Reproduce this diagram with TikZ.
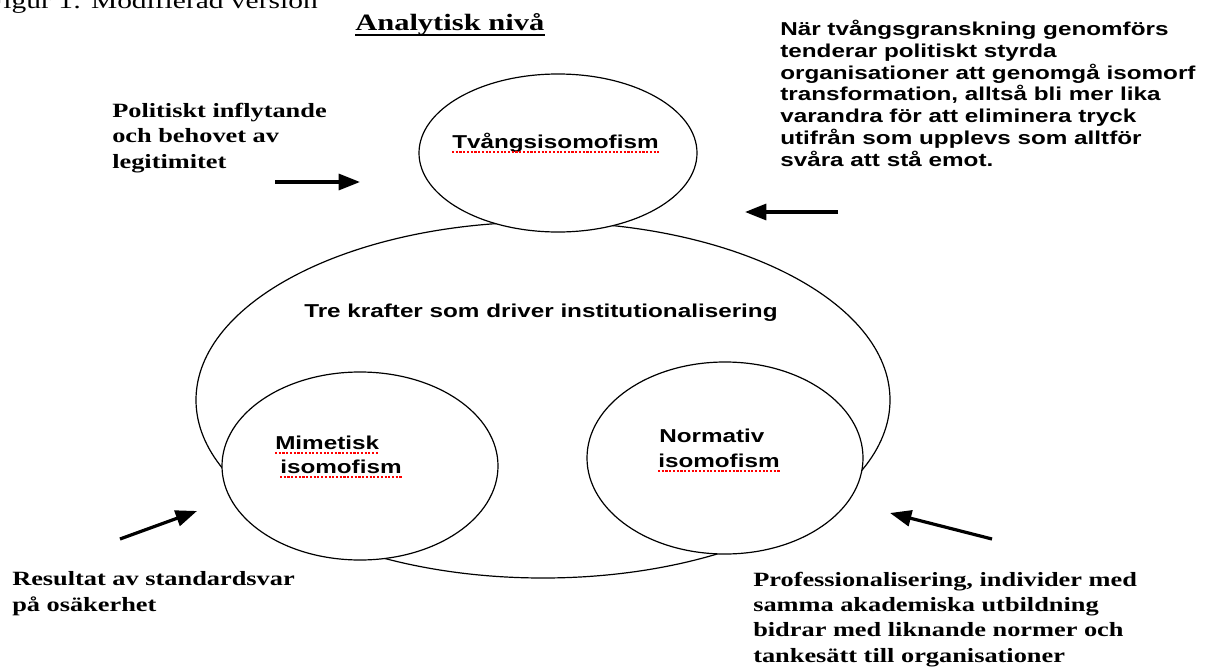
\documentclass[tikz,border=0pt]{standalone}
\usepackage{fontspec}
\setmainfont{Liberation Serif}[FakeStretch=1.3]
\newfontfamily\helvfont{Liberation Sans}[FakeStretch=1.3]
\usetikzlibrary{shapes.geometric}
\usetikzlibrary{arrows.meta}

\begin{document}
\begin{tikzpicture}[x=0.75pt,y=-0.75pt,
    circ/.style={ellipse,draw,line width=0.9pt,fill=white,inner sep=0pt},
    sans/.style={font=\helvfont\bfseries\fontsize{14}{16.3}\selectfont,
        inner sep=0pt,anchor=base west,align=left},
    serif/.style={font=\bfseries\fontsize{15.2}{18.9}\selectfont,
        inner sep=0pt,anchor=base west,align=left},
    force/.style={line width=2.4pt,-{Triangle[length=16pt,width=12pt]}},
    spell/.style={red,line width=0.9pt,dash pattern=on 1.6pt off 1.2pt}]
        \useasboundingbox (0,0) rectangle (1207,671);

        % rubriker
        \node[inner sep=0pt,anchor=base east,font=\fontsize{17}{20}\selectfont]
            (figur) at (318,8) {Figur 1: Modifierad version};
        \node[inner sep=0pt,anchor=base west,font=\bfseries\fontsize{17.6}{20}\selectfont]
            (niva) at (355,31) {Analytisk nivå};
        \draw[line width=0.8pt] ([yshift=-3pt]niva.base west) -- ([yshift=-3pt]niva.base east);

        % cirklarna
        \node[circ,minimum width=520.5pt,minimum height=267pt] (krafter) at (543,400) {};
        \node[circ,minimum width=208.5pt,minimum height=118.5pt] (tvang) at (558,153) {};
        \node[circ,minimum width=207pt,minimum height=141pt] (mimetisk) at (360,466) {};
        \node[circ,minimum width=207pt,minimum height=144pt] (normativ) at (725,458) {};

        \node[sans] (krafter-t) at (304,317) {Tre krafter som driver institutionalisering};
        \node[sans] (tvang-t) at (452,148) {Tvångsisomofism};
        \node[sans] (mim-a) at (275,449) {Mimetisk};
        \node[sans] (mim-b) at (280,473) {isomofism};
        \node[sans] (norm-a) at (659,442) {Normativ};
        \node[sans] (norm-b) at (658,467) {isomofism};
        \foreach \w in {tvang-t,mim-a,mim-b,norm-b}
            \draw[spell] ([yshift=-3pt]\w.base west) -- ([yshift=-3pt]\w.base east);

        % förklaringar (base = sista raden)
        \node[sans] (tvang-txt) at (780,166) {När tvångsgranskning genomförs\\
            tenderar politiskt styrda\\
            organisationer att genomgå isomorf\\
            transformation, alltså bli mer lika\\
            varandra för att eliminera tryck\\
            utifrån som upplevs som alltför\\
            svåra att stå emot.};
        \node[serif] (polit) at (112,168) {Politiskt inflytande\\
            och behovet av\\
            legitimitet};
        \node[serif] (result) at (12,611) {Resultat av standardsvar\\
            på osäkerhet};
        \node[serif] (prof) at (753,662) {Professionalisering, individer med\\
            samma akademiska utbildning\\
            bidrar med liknande normer och\\
            tankesätt till organisationer};

        % pilar
        \coordinate (polit-s) at (275,182);
        \coordinate (polit-e) at (360,182);
        \coordinate (tvang-s) at (838,212);
        \coordinate (tvang-e) at (745,212);
        \coordinate (result-s) at (120,539);
        \coordinate (result-e) at (197,511);
        \coordinate (prof-s) at (992,539);
        \coordinate (prof-e) at (890,513);
        \draw[force] (polit-s) -- (polit-e);
        \draw[force] (tvang-s) -- (tvang-e);
        \draw[force] (result-s) -- (result-e);
        \draw[force] (prof-s) -- (prof-e);
\end{tikzpicture}
\end{document}
